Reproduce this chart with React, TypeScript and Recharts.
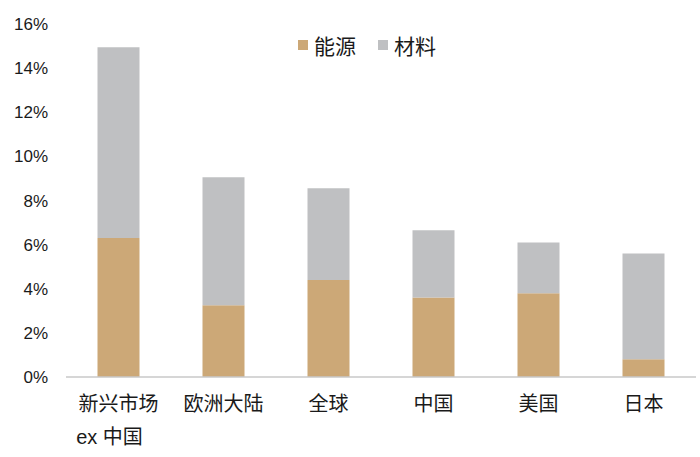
import { BarChart, Bar, XAxis, YAxis } from "recharts";

// 类别与数值（%）
const categories = ["新兴市场\nex 中国", "欧洲大陆", "全球", "中国", "美国", "日本"];
const energy = [6.3, 3.25, 4.4, 3.6, 3.8, 0.8];
const materials = [8.65, 5.8, 4.15, 3.05, 2.3, 4.8];
const yTicks = [0, 2, 4, 6, 8, 10, 12, 14, 16];

const ENERGY_COLOR = "#CCA877";
const MATERIALS_COLOR = "#BFC0C2";
const FONT = "'Liberation Sans', 'Noto Sans CJK SC', sans-serif";

const data = categories.map((name, i) => ({
  name,
  energy: energy[i],
  materials: materials[i],
}));

function CategoryTick({ x, y, payload }: { x?: number; y?: number; payload?: { value: string } }) {
  const lines = String(payload?.value ?? "").split("\n");
  const cx = Number(x);
  return (
    <text x={cx} y={y} textAnchor="middle" fill="#1a1a1a" fontSize={20} fontFamily={FONT}>
      {lines.map((line, i) => (
        <tspan key={i} x={i === 0 ? cx : cx - 9} dy={i === 0 ? 26 : 33}>
          {line}
        </tspan>
      ))}
    </text>
  );
}

function LegendBox() {
  const items = [
    { label: "能源", color: ENERGY_COLOR },
    { label: "材料", color: MATERIALS_COLOR },
  ];
  return (
    <div
      style={{
        position: "absolute",
        left: 298,
        top: 30,
        display: "flex",
        alignItems: "center",
        fontFamily: FONT,
        fontSize: 21,
        color: "#1a1a1a",
      }}
    >
      {items.map((it, i) => (
        <div key={it.label} style={{ display: "flex", alignItems: "center", marginRight: i === 0 ? 22 : 0 }}>
          <span style={{ width: 10, height: 10, background: it.color, display: "inline-block", marginRight: 6 }} />
          <span>{it.label}</span>
        </div>
      ))}
    </div>
  );
}

export default function App() {
  return (
    <div style={{ position: "absolute", left: 0, top: 0, width: 700, height: 457, background: "#fff" }}>
      <BarChart
        width={700}
        height={457}
        data={data}
        margin={{ top: 24, right: 4, bottom: 50, left: 6 }}
        barCategoryGap="30%"
      >
        <XAxis
          dataKey="name"
          interval={0}
          tickLine={false}
          axisLine={{ stroke: "#C8C8C8", strokeWidth: 1.5 }}
          tick={<CategoryTick />}
        />
        <YAxis
          width={60}
          domain={[0, 16]}
          ticks={yTicks}
          interval={0}
          axisLine={false}
          tickLine={false}
          tickMargin={12}
          tickFormatter={(v: number) => `${v}%`}
          tick={{ fontSize: 17, fill: "#1a1a1a", fontFamily: FONT }}
        />
        <Bar dataKey="energy" stackId="a" fill={ENERGY_COLOR} isAnimationActive={false} />
        <Bar dataKey="materials" stackId="a" fill={MATERIALS_COLOR} isAnimationActive={false} />
      </BarChart>
      <LegendBox />
    </div>
  );
}
